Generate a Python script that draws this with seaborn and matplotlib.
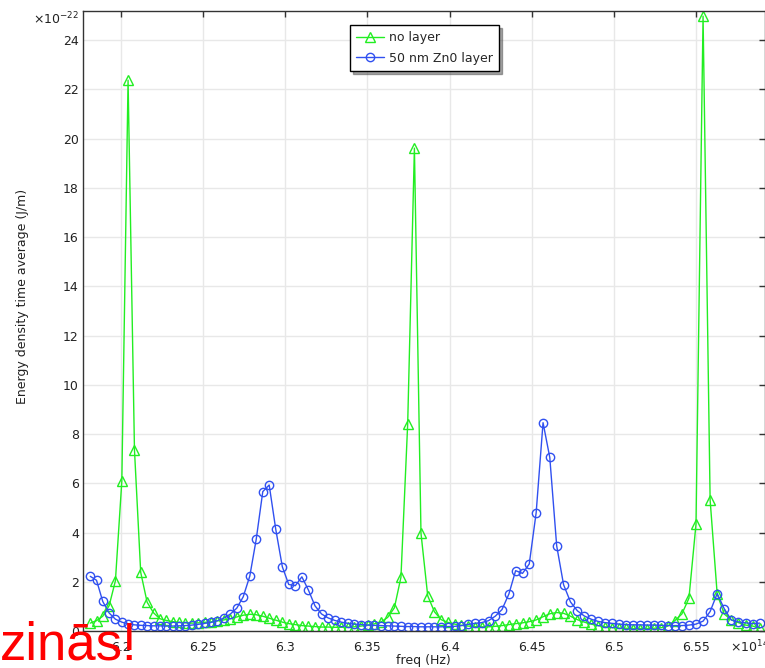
import matplotlib
matplotlib.use("Agg")
import matplotlib.pyplot as plt
import seaborn as sns

# frequency (x 1e14 Hz)
freq = [
    6.1813, 6.1851, 6.1889, 6.1928, 6.1966, 6.2005, 6.2043, 6.2082, 6.2120, 6.2159,
    6.2198, 6.2236, 6.2275, 6.2314, 6.2353, 6.2392, 6.2431, 6.2470, 6.2509, 6.2548,
    6.2587, 6.2626, 6.2666, 6.2705, 6.2744, 6.2784, 6.2823, 6.2863, 6.2902, 6.2942,
    6.2982, 6.3021, 6.3061, 6.3101, 6.3141, 6.3181, 6.3221, 6.3261, 6.3301, 6.3341,
    6.3381, 6.3421, 6.3462, 6.3502, 6.3542, 6.3583, 6.3623, 6.3664, 6.3704, 6.3745,
    6.3786, 6.3826, 6.3867, 6.3908, 6.3949, 6.3990, 6.4031, 6.4072, 6.4113, 6.4154,
    6.4195, 6.4237, 6.4278, 6.4319, 6.4361, 6.4402, 6.4444, 6.4485, 6.4527, 6.4569,
    6.4610, 6.4652, 6.4694, 6.4736, 6.4778, 6.4820, 6.4862, 6.4904, 6.4946, 6.4989,
    6.5031, 6.5073, 6.5116, 6.5158, 6.5201, 6.5243, 6.5286, 6.5328, 6.5371, 6.5414,
    6.5457, 6.5500, 6.5543, 6.5586, 6.5629, 6.5672, 6.5715, 6.5758, 6.5802, 6.5845,
    6.5888,
]

# energy density time average (x 1e-22 J/m), no layer
no_layer = [
    0.32, 0.42, 0.60, 1.03, 2.04, 6.08, 22.37, 7.35, 2.38, 1.17,
    0.74, 0.50, 0.43, 0.38, 0.35, 0.33, 0.32, 0.33, 0.35, 0.37,
    0.41, 0.45, 0.50, 0.57, 0.64, 0.68, 0.66, 0.60, 0.52, 0.44,
    0.36, 0.30, 0.26, 0.22, 0.20, 0.18, 0.16, 0.16, 0.15, 0.15,
    0.16, 0.17, 0.20, 0.24, 0.29, 0.37, 0.55, 0.94, 2.18, 8.40,
    19.61, 3.97, 1.43, 0.78, 0.46, 0.35, 0.28, 0.23, 0.20, 0.18,
    0.17, 0.17, 0.19, 0.22, 0.26, 0.30, 0.33, 0.38, 0.45, 0.58,
    0.70, 0.75, 0.72, 0.60, 0.46, 0.36, 0.28, 0.22, 0.17, 0.14,
    0.12, 0.11, 0.10, 0.10, 0.10, 0.11, 0.13, 0.20, 0.42, 0.69,
    1.33, 4.34, 24.97, 5.32, 1.50, 0.69, 0.45, 0.34, 0.24, 0.20,
    0.11,
]

# energy density time average (x 1e-22 J/m), 50 nm ZnO layer
zno_layer = [
    2.22, 2.06, 1.20, 0.73, 0.48, 0.36, 0.29, 0.25, 0.23, 0.22,
    0.21, 0.21, 0.20, 0.20, 0.21, 0.22, 0.24, 0.27, 0.31, 0.35,
    0.42, 0.52, 0.69, 0.93, 1.39, 2.23, 3.72, 5.66, 5.93, 4.13,
    2.61, 1.89, 1.84, 2.20, 1.66, 1.02, 0.69, 0.53, 0.43, 0.36,
    0.31, 0.28, 0.26, 0.24, 0.23, 0.22, 0.21, 0.20, 0.19, 0.18,
    0.18, 0.17, 0.17, 0.17, 0.17, 0.18, 0.19, 0.22, 0.27, 0.31,
    0.34, 0.42, 0.60, 0.87, 1.50, 2.45, 2.34, 2.72, 4.80, 8.46,
    7.05, 3.46, 1.88, 1.18, 0.82, 0.61, 0.48, 0.39, 0.34, 0.31,
    0.28, 0.26, 0.25, 0.25, 0.24, 0.24, 0.23, 0.22, 0.22, 0.22,
    0.24, 0.28, 0.40, 0.79, 1.52, 0.90, 0.45, 0.37, 0.33, 0.30,
    0.32,
]

series_labels = ["no layer", "50 nm Zn0 layer"]
xticks = [6.2, 6.25, 6.3, 6.35, 6.4, 6.45, 6.5, 6.55]
xticklabels = ["6.2", "6.25", "6.3", "6.35", "6.4", "6.45", "6.5", "6.55"]
yticks = [0, 2, 4, 6, 8, 10, 12, 14, 16, 18, 20, 22, 24]
yticklabels = [str(v) for v in yticks]

sns.set_style("white")
plt.rcParams["font.family"] = ["DejaVu Sans"]

W, H = 765, 668
fig = plt.figure(figsize=(W / 100, H / 100), dpi=100)
ax = fig.add_axes([83 / W, 1 - 631 / H, (764.5 - 83) / W, (631 - 11) / H])

green = "#22ee22"
blue = "#3050f0"

sns.lineplot(x=freq, y=no_layer, ax=ax, color=green, lw=1.0, marker="^",
             ms=6.5, mfc="none", mec=green, mew=1.0, label=series_labels[0],
             sort=False, estimator=None)
sns.lineplot(x=freq, y=zno_layer, ax=ax, color=blue, lw=1.0, marker="o",
             ms=6.0, mfc="none", mec=blue, mew=1.0, label=series_labels[1],
             sort=False, estimator=None)

ax.set_xlim(6.17687, 6.5917)
ax.set_ylim(0, 25.18)
ax.set_xticks(xticks)
ax.set_xticklabels(xticklabels)
ax.set_yticks(yticks)
ax.set_yticklabels(yticklabels)

ax.set_axisbelow(True)
ax.grid(True, color="#e8e8e8", lw=1.0)
for s in ax.spines.values():
    s.set_visible(True)
    s.set_color("#333333")
    s.set_linewidth(1.0)

ax.tick_params(axis="both", direction="in", top=True, right=True, length=4,
               width=1, color="#333333", labelsize=9, labelcolor="#222222")
ax.tick_params(axis="x", pad=7)
ax.tick_params(axis="y", pad=3)

ax.set_xlabel("freq (Hz)", fontsize=9, color="#222222")
ax.set_ylabel("Energy density time average (J/m)", fontsize=9, color="#222222")
ax.xaxis.set_label_coords(0.5, -0.037)
ax.yaxis.set_label_coords(-0.079, 0.54)

leg = ax.legend(loc="upper left", bbox_to_anchor=((350 - 83) / 681.5, 1 - (25 - 11) / 620),
                frameon=True, fancybox=False, shadow=True, edgecolor="black",
                framealpha=1, fontsize=9, handlelength=2.2, borderpad=0.5,
                labelspacing=0.6, handletextpad=0.4, borderaxespad=0)
leg.get_frame().set_linewidth(1.0)

fig.text(33 / W, 1 - 24 / H, r"$\times10^{-22}$", fontsize=9, color="#222222",
         ha="left", va="baseline")
fig.text(730 / W, 1 - 652 / H, r"$\times10^{14}$", fontsize=9, color="#222222",
         ha="left", va="baseline")

fig.text(0 / W, 1 - 660 / H, "zinās!", color="red", fontsize=38,
         family=["Liberation Sans", "DejaVu Sans"], ha="left", va="baseline",
         zorder=20)

fig.savefig("out.png", dpi=100)
